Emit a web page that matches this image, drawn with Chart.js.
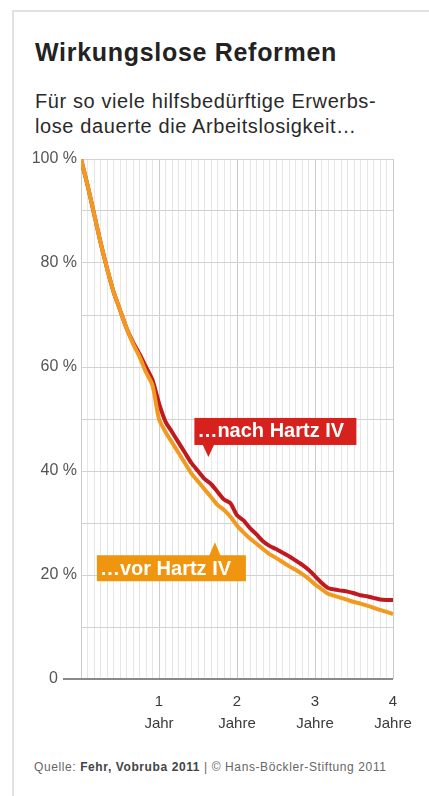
<!DOCTYPE html>
<html>
<head>
<meta charset="utf-8">
<script src="https://cdn.jsdelivr.net/npm/chart.js@4"></script>
<style>
  body { margin: 0; background: #fff; font-family: 'Liberation Sans', Arial, sans-serif; }
  .card { position: absolute; left: 12px; top: 10px; width: 430px; height: 800px;
          border-left: 2px solid #e2e2e2; border-top: 2px solid #e2e2e2; }
  .title { position: absolute; left: 35px; top: 37px; font-size: 25px; line-height: 30px;
           font-weight: bold; color: #222; letter-spacing: 0.7px; white-space: nowrap; }
  .sub { position: absolute; left: 35px; top: 89px; font-size: 20px; line-height: 25px;
         color: #2a2a2a; letter-spacing: 0.6px; white-space: nowrap; }
  .foot { position: absolute; left: 34px; top: 760px; font-size: 12px; line-height: 14px;
          color: #666; letter-spacing: 0.6px; white-space: nowrap; }
  .foot b { color: #444; }
  #wrap { position: absolute; left: 12px; top: 140px; width: 417px; height: 600px; }
</style>
</head>
<body>
<div class="card"></div>
<div class="title">Wirkungslose Reformen</div>
<div class="sub">Für so viele hilfsbedürftige Erwerbs-<br>lose dauerte die Arbeitslosigkeit…</div>
<div id="wrap"><canvas id="myChart"></canvas></div>
<div class="foot">Quelle: <b>Fehr, Vobruba 2011</b> | © Hans-Böckler-Stiftung 2011</div>
<script>
"use strict";

// months since start of unemployment
const months = [0,1,2,3,4,5,6,7,8,9,10,11,12,13,14,15,16,17,18,19,20,21,22,23,24,
    25,26,27,28,29,30,31,32,33,34,35,36,37,38,39,40,41,42,43,44,45,46,47,48];

// share still unemployed (%) - before Hartz IV
const vorHartz = [100,95,89.5,84,79,74.5,71,67.5,64.5,62,59,56.5,50,47.5,45.5,43.5,41.5,39.5,38,36.5,35,33.5,32.5,31.2,29.5,
    28.2,27,26,25,24,23.3,22.5,21.7,21,20.2,19.3,18.2,17.3,16.4,16,15.6,15.2,14.8,14.5,14.1,13.7,13.3,12.9,12.5];

// share still unemployed (%) - after Hartz IV
const nachHartz = [100,95,89.5,84,79,74.5,71,67.5,64.8,62.5,60,57.5,53,49.5,47.5,45.5,43.5,41.5,40,38.5,37.5,36,34.5,33.8,31.5,
    30.5,29,27.8,26.5,25.6,25,24.3,23.6,22.8,22,21,19.8,18.5,17.5,17.2,17,16.8,16.5,16.1,15.9,15.6,15.3,15.2,15.2];

const yearLabels = [["1", "Jahr"], ["2", "Jahre"], ["3", "Jahre"], ["4", "Jahre"]];
const yLabelValues = [0, 20, 40, 60, 80, 100];

const calloutNach = "…nach Hartz IV";
const calloutVor = "…vor Hartz IV";

Chart.defaults.font.family = "'Liberation Sans', Arial, sans-serif";

const toPoints = (vals) => months.map((m, i) => ({ x: m, y: vals[i] }));

// axis line extension + the two label boxes
const extras = {
    id: 'extras',
    afterDatasetsDraw(chart) {
        const ctx = chart.ctx;
        const x = chart.scales.x, y = chart.scales.y;
        const area = chart.chartArea;

        ctx.save();
        ctx.strokeStyle = '#8a8a8a';
        ctx.lineWidth = 2;
        ctx.beginPath();
        ctx.moveTo(area.left - 18, y.getPixelForValue(0));
        ctx.lineTo(area.right, y.getPixelForValue(0));
        ctx.stroke();

        ctx.font = "bold 20px 'Liberation Sans', Arial, sans-serif";
        ctx.textBaseline = 'middle';

        // red box, pointer points down
        let tx = x.getPixelForValue(19.6), ty = y.getPixelForValue(42.7);
        ctx.fillStyle = '#d6211d';
        ctx.fillRect(tx - 14, ty - 39, 162, 27);
        ctx.beginPath();
        ctx.moveTo(tx - 6, ty - 13);
        ctx.lineTo(tx + 6, ty - 13);
        ctx.lineTo(tx, ty);
        ctx.closePath();
        ctx.fill();
        ctx.fillStyle = '#fff';
        ctx.fillText(calloutNach, tx - 11, ty - 25);

        // orange box, pointer points up
        tx = x.getPixelForValue(20.6);
        ty = y.getPixelForValue(26.3);
        ctx.fillStyle = '#f0950f';
        ctx.fillRect(tx - 118, ty + 13, 149, 26);
        ctx.beginPath();
        ctx.moveTo(tx - 6, ty + 14);
        ctx.lineTo(tx + 6, ty + 14);
        ctx.lineTo(tx, ty);
        ctx.closePath();
        ctx.fill();
        ctx.fillStyle = '#fff';
        ctx.fillText(calloutVor, tx - 115, ty + 27);
        ctx.restore();
    }
};

new Chart(document.getElementById('myChart'), {
    type: 'line',
    data: {
        datasets: [{
            label: 'vor Hartz IV',
            data: toPoints(vorHartz),
            borderColor: '#f29a1f',
            borderWidth: 4,
            pointRadius: 0,
            tension: 0.2
        }, {
            label: 'nach Hartz IV',
            data: toPoints(nachHartz),
            borderColor: '#bf1a20',
            borderWidth: 4,
            pointRadius: 0,
            tension: 0.2
        }]
    },
    options: {
        responsive: true,
        maintainAspectRatio: false,
        animation: false,
        layout: { padding: { top: 19, right: 36, left: 0, bottom: 0 } },
        plugins: {
            legend: { display: false },
            tooltip: { enabled: false }
        },
        scales: {
            x: {
                type: 'linear',
                min: 0,
                max: 48,
                afterFit: (scale) => { scale.height = 61; },
                border: { display: false },
                grid: {
                    drawTicks: false,
                    color: (c) => c.tick.value % 12 === 0 ? '#cbcbcb' : '#e6e6e6',
                    lineWidth: 1
                },
                ticks: {
                    stepSize: 1,
                    autoSkip: false,
                    maxRotation: 0,
                    padding: 12,
                    color: '#3a3a3a',
                    font: { size: 15, lineHeight: 1.45 },
                    callback: (v) => (v > 0 && v % 12 === 0) ? yearLabels[v / 12 - 1] : ''
                }
            },
            y: {
                min: 0,
                max: 100,
                afterFit: (scale) => { scale.width = 69; },
                border: { display: false },
                grid: {
                    drawTicks: false,
                    color: (c) => c.tick.value === 0 ? 'rgba(0,0,0,0)' : '#d2d2d2',
                    lineWidth: 1
                },
                ticks: {
                    stepSize: 10,
                    padding: 4,
                    color: '#555',
                    font: { size: 16 },
                    callback: (v) => {
                        if (!yLabelValues.includes(v)) return '';
                        return v === 0 ? '0\u2003\u2009' : v + ' %';
                    }
                }
            }
        }
    },
    plugins: [extras]
});
</script>
</body>
</html>
